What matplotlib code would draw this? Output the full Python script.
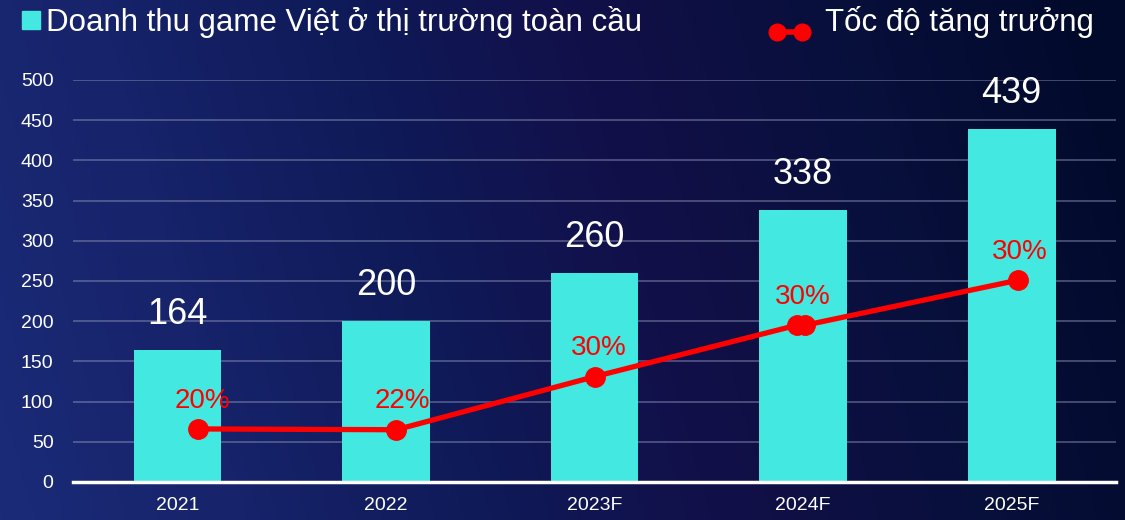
import matplotlib.pyplot as plt
from matplotlib.patches import Rectangle
from matplotlib.lines import Line2D
from matplotlib.colors import LinearSegmentedColormap
import numpy as np

plt.rcParams['font.family'] = ['Liberation Sans', 'DejaVu Sans']

# --- data ---
years = ["2021", "2022", "2023F", "2024F", "2025F"]
revenue = [164, 200, 260, 338, 439]
growth_labels = ["20%", "22%", "30%", "30%", "30%"]
# the growth line sits on its own hidden scale; positions as seen on the left axis
growth_x = [0.10, 1.05, 2.00, 2.97, 3.01, 4.03]
growth_y = [66, 65, 131, 195, 195, 251]
label_x = [0.12, 1.08, 2.02, 3.00, 4.04]
label_y = [66, 65, 131, 195, 251]

bar_color = "#43e8e0"
red = "#ff0000"

fig = plt.figure(figsize=(11.25, 5.2), dpi=100)

# gradient background
bg = fig.add_axes([0, 0, 1, 1], zorder=-10)
bg_cmap = LinearSegmentedColormap.from_list(
    "bg", ["#1b2b78", "#17236a", "#0f1a58", "#120f48", "#08103c", "#020a2c"])
gx = np.linspace(0, 1, 400)
gy = np.linspace(0, 1, 200)
GX, GY = np.meshgrid(gx, gy)
grad = np.clip(GX * 0.92 + (1 - GY) * 0.12, 0, 1)
bg.imshow(grad, cmap=bg_cmap, aspect="auto", extent=[0, 1, 0, 1], origin="upper")
bg.set_axis_off()

ax = fig.add_axes([0.0649, 0.0731, 0.9271, 0.7731])
ax.patch.set_alpha(0)
x = np.arange(len(years))
ax.bar(x, revenue, width=0.42, color=bar_color, zorder=3)
for xi, v in zip(x, revenue):
    ax.annotate(str(v), (xi, v), xytext=(0, 13), textcoords="offset points",
                ha="center", va="bottom", color="white", fontsize=26,
                annotation_clip=False)

ax.plot(growth_x, growth_y, color=red, lw=3.8, marker="o", ms=14, zorder=4)
for lx, ly, t in zip(label_x, label_y, growth_labels):
    ax.annotate(t, (lx, ly), xytext=(0, 11), textcoords="offset points",
                ha="center", va="bottom", color=red, fontsize=20, zorder=5)

ax.set_xlim(-0.5, len(years) - 0.5)
ax.set_ylim(0, 500)
ax.set_yticks(range(0, 501, 50))
ax.set_xticks(x)
ax.set_xticklabels(years)
ax.tick_params(axis="both", length=0, colors="white", labelsize=14)
ax.tick_params(axis="y", pad=14)
ax.tick_params(axis="x", pad=11)
ax.grid(axis="y", color="#8a93b8", alpha=0.5, lw=1.3, zorder=0)
for s in ["top", "right", "left"]:
    ax.spines[s].set_visible(False)
ax.spines["bottom"].set_color("white")
ax.spines["bottom"].set_linewidth(2.5)
ax.spines["bottom"].set_zorder(6)

# legend drawn by hand at the top
fig.patches.append(Rectangle((22 / 1125, 1 - 29 / 520), 18 / 1125, 18 / 520,
                             transform=fig.transFigure, color=bar_color))
fig.text(46 / 1125, 1 - 22 / 520, "Doanh thu game Việt ở thị trường toàn cầu",
         color="white", fontsize=22.5, va="center", ha="left")
fig.lines.append(Line2D([777 / 1125, 802 / 1125], [1 - 32 / 520, 1 - 32 / 520],
                        transform=fig.transFigure, color=red, lw=4,
                        marker="o", ms=12))
fig.text(825 / 1125, 1 - 22 / 520, "Tốc độ tăng trưởng",
         color="white", fontsize=22.5, va="center", ha="left")

fig.savefig("out.png", dpi=100)
